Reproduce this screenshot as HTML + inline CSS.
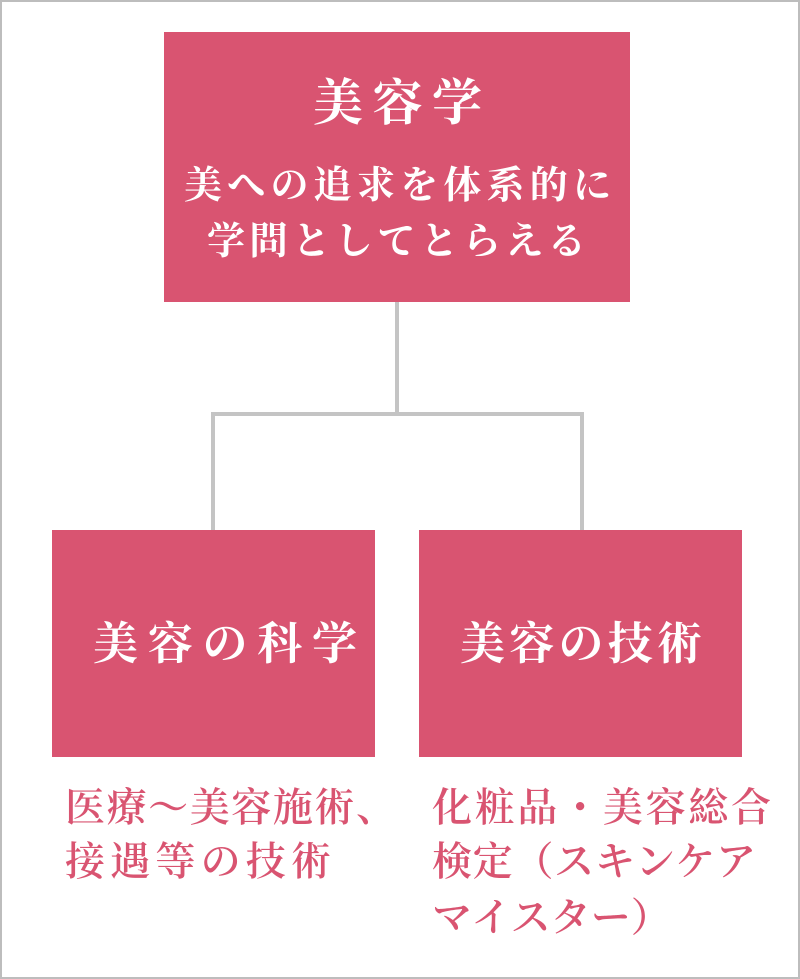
<!DOCTYPE html>
<html><head><meta charset="utf-8"><style>
body{margin:0;width:800px;height:979px;position:relative;background:#fff;overflow:hidden;font-family:"Liberation Serif","Noto Serif CJK SC",serif;font-weight:bold}
.frame{position:absolute;left:0;top:0;width:796px;height:975px;border:2px solid #bdbdbd}
.box{position:absolute;background:#d95471}
.ln{position:absolute;background:#c4c4c4}
.t{position:absolute;white-space:nowrap;text-align:justify;text-align-last:justify;line-height:1}
.w{color:#fff}
.p{color:#d95471;font-weight:600}
</style></head><body>
<div class="frame"></div>
<div class="box" style="left:164px;top:32px;width:466px;height:270px"></div>
<div class="box" style="left:52px;top:530px;width:323px;height:227px"></div>
<div class="box" style="left:419px;top:530px;width:323px;height:227px"></div>
<div class="ln" style="left:395px;top:302px;width:4px;height:114px"></div>
<div class="ln" style="left:211px;top:412px;width:373px;height:4px"></div>
<div class="ln" style="left:211px;top:412px;width:4px;height:118px"></div>
<div class="ln" style="left:580px;top:412px;width:4px;height:118px"></div>

<div class="t w" style="left:313px;top:78px;width:169px;font-size:50px">美容学</div>
<div class="t w" style="left:184px;top:167px;width:427px;font-size:38px">美への追求を体系的に</div>
<div class="t w" style="left:207px;top:223px;width:379px;font-size:38px">学問としてとらえる</div>
<div class="t w" style="left:93px;top:622px;width:264px;font-size:45px">美容の科学</div>
<div class="t w" style="left:460px;top:622px;width:242px;font-size:45px">美容の技術</div>

<div class="t p" style="left:65px;top:788px;width:331px;font-size:40px">医療～美容施術、</div>
<div class="t p" style="left:65px;top:842px;width:266px;font-size:40px">接遇等の技術</div>
<div class="t p" style="left:432px;top:788px;width:339px;font-size:40px">化粧品・美容総合</div>
<div class="t p" style="left:432px;top:842px;width:324px;font-size:40px">検定（スキンケア</div>
<div class="t p" style="left:432px;top:898px;width:224px;font-size:40px">マイスター）</div>
</body></html>
